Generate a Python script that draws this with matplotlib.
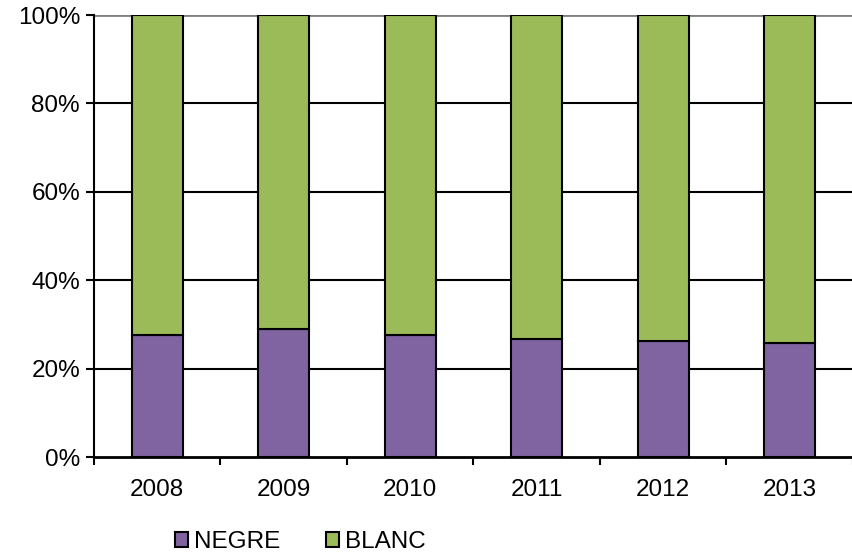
import matplotlib.pyplot as plt
import numpy as np

years = ["2008", "2009", "2010", "2011", "2012", "2013"]
negre = [27.7, 29.0, 27.7, 26.8, 26.3, 25.9]
blanc = [100 - v for v in negre]

PURPLE = "#8064A2"
GREEN = "#9BBB59"

plt.rcParams["font.family"] = ["Liberation Sans", "DejaVu Sans"]

fig = plt.figure(figsize=(8.53, 5.53), dpi=100)
ax = fig.add_axes([94 / 853, 1 - 457 / 553, (853 - 94) / 853, (457 - 15) / 553])

x = np.arange(len(years))
ax.bar(x, negre, width=0.4, color=PURPLE, edgecolor="black", linewidth=1.5, label="NEGRE", zorder=3)
ax.bar(x, blanc, width=0.4, bottom=negre, color=GREEN, edgecolor="black", linewidth=1.5, label="BLANC", zorder=3)

ax.set_xlim(-0.5, len(years) - 0.5)
ax.set_ylim(0, 100)
ax.set_yticks(range(0, 101, 20))
ax.set_yticklabels([f"{v}%" for v in range(0, 101, 20)], fontsize=17.5)
ax.set_xticks(x)
ax.set_xticklabels(years, fontsize=17.5)
ax.tick_params(axis="x", length=0, pad=16)
ax.set_xticks(np.arange(-0.5, len(years)), minor=True)
ax.tick_params(axis="x", which="minor", length=6, width=1.5, direction="out")
ax.tick_params(axis="y", length=6, width=1.5, direction="out", pad=4)

for v in range(20, 100, 20):
    ax.axhline(v, color="black", linewidth=1.5, zorder=1)
ax.axhline(100, color="#808080", linewidth=2, zorder=1)

for s in ["top", "right"]:
    ax.spines[s].set_visible(False)
ax.spines["left"].set_linewidth(1.5)
ax.spines["bottom"].set_linewidth(2)
ax.spines["bottom"].set_zorder(4)

leg = fig.legend(loc="lower left", bbox_to_anchor=(153 / 853, -0.04), ncol=2, frameon=False,
                 fontsize=17.5, handlelength=0.55, handleheight=0.55, handletextpad=0.25,
                 columnspacing=1.85)
for h in leg.legend_handles:
    h.set_linewidth(1.5)

fig.savefig("out.png", dpi=100)
